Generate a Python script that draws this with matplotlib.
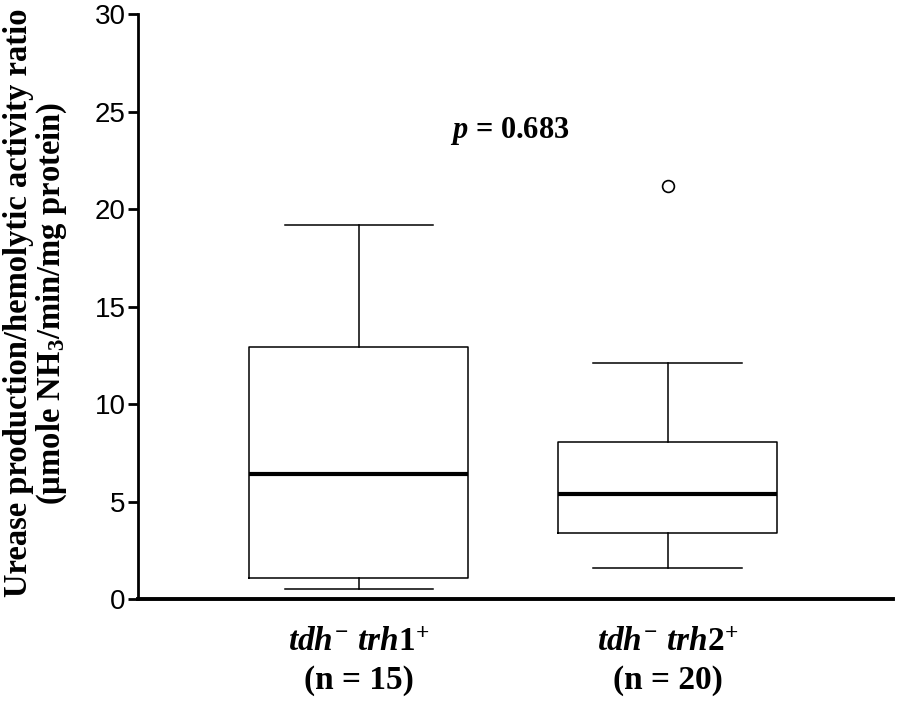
import matplotlib
matplotlib.use("Agg")
import matplotlib.pyplot as plt

# Box statistics
groups = [r"$\mathit{tdh}^{-}\ \mathit{trh}\mathrm{1}^{+}$" + "\n(n = 15)",
          r"$\mathit{tdh}^{-}\ \mathit{trh}\mathrm{2}^{+}$" + "\n(n = 20)"]
q1 = [1.1, 3.4]
med = [6.4, 5.4]
q3 = [12.9, 8.05]
whislo = [0.5, 1.6]
whishi = [19.2, 12.1]
fliers = [[], [21.2]]
yticks = [0, 5, 10, 15, 20, 25, 30]
p_text = r"$\mathit{p}$ = 0.683"

plt.rcParams["mathtext.fontset"] = "custom"
plt.rcParams["mathtext.rm"] = "Liberation Serif:bold"
plt.rcParams["mathtext.bf"] = "Liberation Serif:bold"
plt.rcParams["mathtext.it"] = "Liberation Serif:italic:bold"

stats = []
for i in range(len(groups)):
    stats.append({"med": med[i], "q1": q1[i], "q3": q3[i],
                  "whislo": whislo[i], "whishi": whishi[i],
                  "fliers": fliers[i]})

fig = plt.figure(figsize=(8.98, 7.02), dpi=100)
ax = fig.add_axes([0.1537, 0.1467, 0.8407, 0.8333])

line = dict(color="black", linewidth=1.1)
ax.bxp(stats, positions=[1, 2], widths=0.71, capwidths=0.48,
       boxprops=line, whiskerprops=line, capprops=line,
       medianprops=dict(color="black", linewidth=3.0),
       flierprops=dict(marker="o", markersize=8.5, markerfacecolor="white",
                       markeredgecolor="black", markeredgewidth=1.2))

ax.set_xlim(0.285, 2.73)
ax.set_ylim(0, 30)
ax.set_yticks(yticks)
ax.set_yticklabels([str(t) for t in yticks], family="Liberation Sans", fontsize=20)
ax.set_xticks([1, 2])
ax.set_xticklabels(groups, family="Liberation Serif", fontweight="bold",
                   fontsize=24, linespacing=1.3)
ax.tick_params(axis="x", length=0, pad=20)
ax.tick_params(axis="y", length=7, width=2, pad=2)

ax.spines["top"].set_visible(False)
ax.spines["right"].set_visible(False)
ax.spines["left"].set_linewidth(2.0)
ax.spines["bottom"].set_linewidth(2.8)

ax.set_ylabel("Urease production/hemolytic activity ratio\n"
              r"(µmole NH$_\mathrm{3}$/min/mg protein)",
              family="Liberation Serif", fontweight="bold", fontsize=23.5,
              linespacing=1.0)
ax.yaxis.set_label_coords(-0.092, 0.506)

ax.text(1.49, 24, p_text, ha="center", va="center",
        family="Liberation Serif", fontweight="bold", fontsize=22)

fig.savefig("out.png", dpi=100)
